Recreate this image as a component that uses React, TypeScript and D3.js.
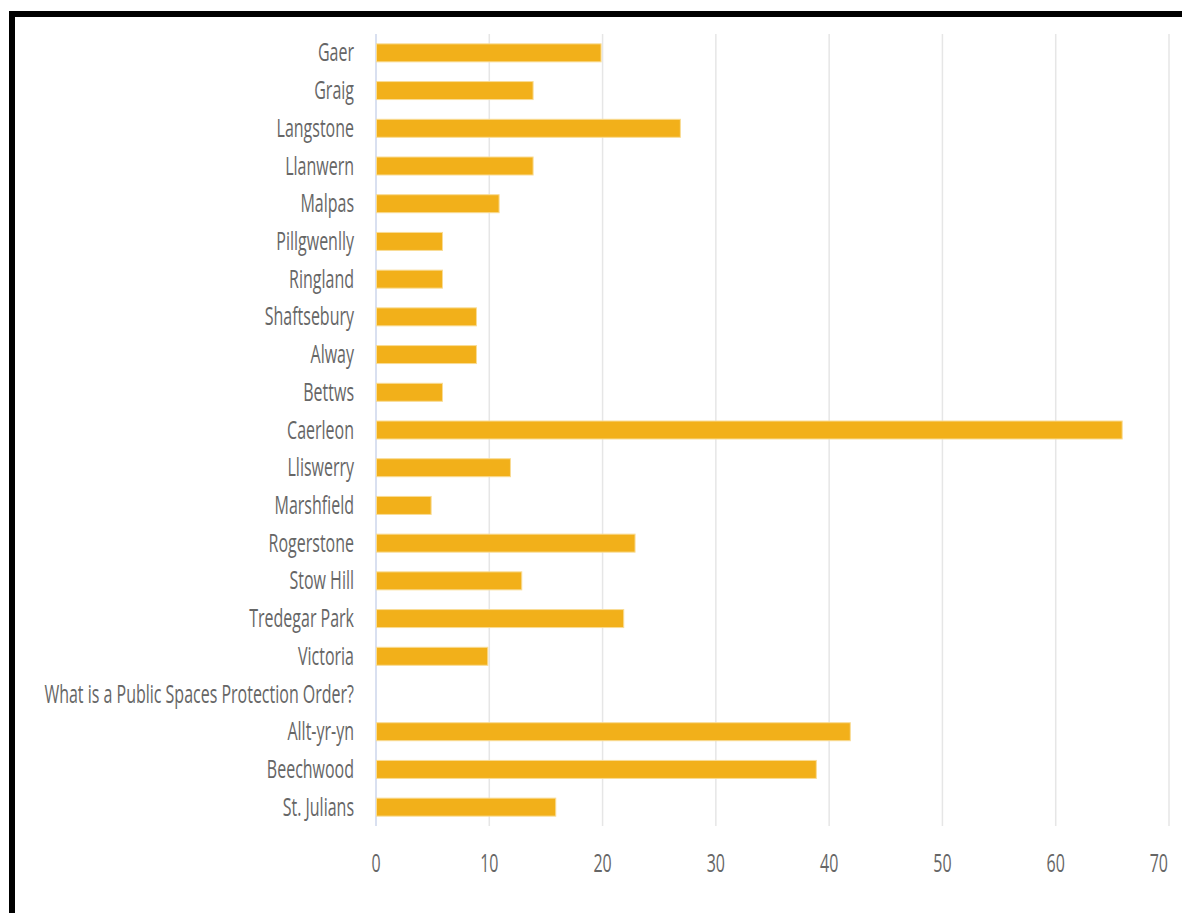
import React from "react";
import * as d3 from "d3";

const categories = [
  "Gaer", "Graig", "Langstone", "Llanwern", "Malpas", "Pillgwenlly", "Ringland",
  "Shaftsebury", "Alway", "Bettws", "Caerleon", "Lliswerry", "Marshfield",
  "Rogerstone", "Stow Hill", "Tredegar Park", "Victoria",
  "What is a Public Spaces Protection Order?", "Allt-yr-yn", "Beechwood", "St. Julians",
];
const values = [20, 14, 27, 14, 11, 6, 6, 9, 9, 6, 66, 12, 5, 23, 13, 22, 10, 0, 42, 39, 16];
const xTicks = [0, 10, 20, 30, 40, 50, 60, 70];

const W = 1182;
const H = 913;
const plot = { left: 376, right: 1169, top: 34, bottom: 826 };
const FONT = "'Open Sans', sans-serif";
const SX = 0.64;

export default function App() {
  const x = d3.scaleLinear().domain([0, 70]).range([plot.left, plot.right]);
  const y = d3.scaleBand<string>().domain(categories).range([plot.top, plot.bottom]).padding(0);
  const barH = 18;
  return (
    <svg width={W} height={H} style={{ position: "absolute", left: 0, top: 0, background: "#fff" }}>
      <rect x={0} y={0} width={W} height={H} fill="#fff" />
      {xTicks.map((t) => (
        <line key={"g" + t} x1={x(t)} x2={x(t)} y1={plot.top} y2={plot.bottom}
          stroke={t === 0 ? "#ccd6eb" : "#e6e6e6"} strokeWidth={1.5} />
      ))}
      {categories.map((c, i) => {
        const cy = (y(c) as number) + y.bandwidth() / 2;
        return (
          <g key={c}>
            {values[i] > 0 && (
              <rect x={x(0) + 0.5} y={cy - barH / 2} width={x(values[i]) - x(0) - 2} height={barH}
                fill="#f2b01a" stroke="#f9dc95" strokeWidth={1} />
            )}
            <text transform={`translate(354,${cy + 8.5}) scale(${SX},1)`} textAnchor="end"
              fontFamily={FONT} fontSize={25} fill="#666">{c}</text>
          </g>
        );
      })}
      {xTicks.map((t, i) => {
        const last = i === xTicks.length - 1;
        return (
          <text key={"t" + t} transform={`translate(${last ? x(t) - 1 : x(t)},${872}) scale(${SX},1)`}
            textAnchor={last ? "end" : "middle"}
            fontFamily={FONT} fontSize={25} fill="#666">{t}</text>
        );
      })}
      <rect x={9} y={11} width={W - 9} height={6} fill="#000" />
      <rect x={9} y={11} width={6} height={H - 11} fill="#000" />
    </svg>
  );
}
